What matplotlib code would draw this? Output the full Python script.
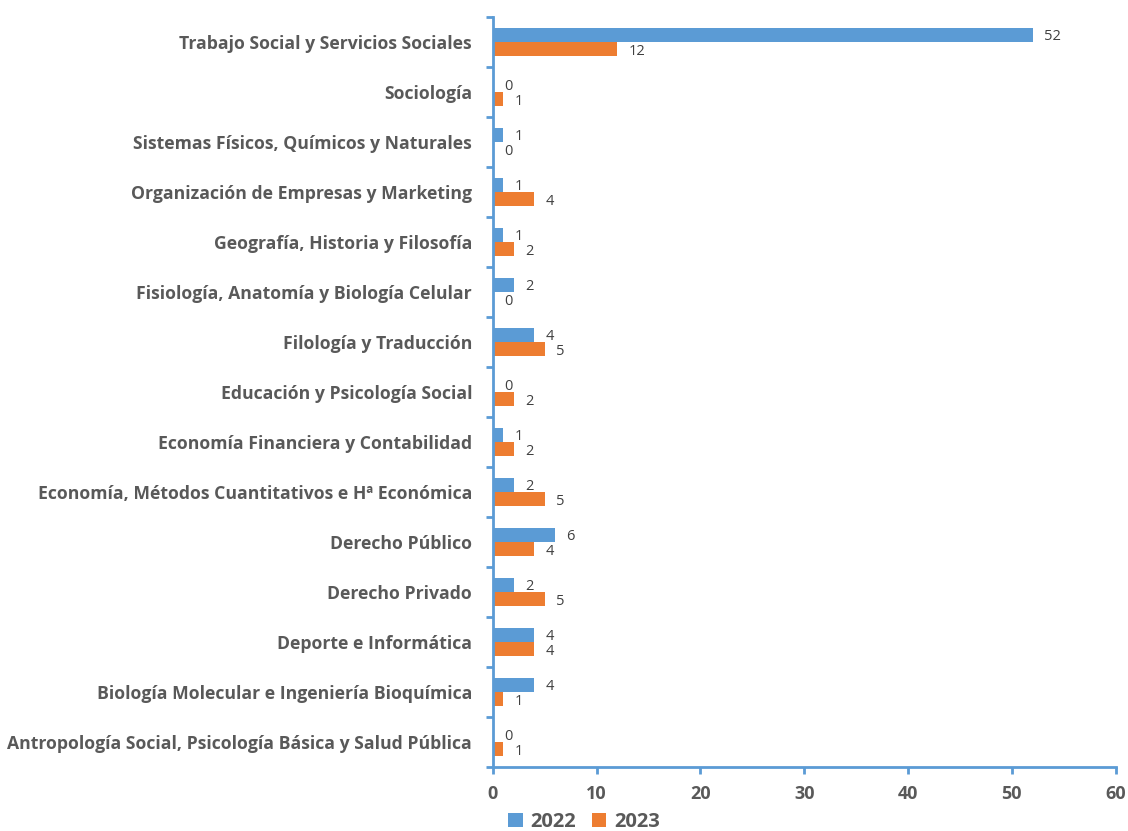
import matplotlib
matplotlib.use("Agg")
import matplotlib.pyplot as plt
import numpy as np

# categories listed bottom to top
categories = [
    "Antropología Social, Psicología Básica y Salud Pública",
    "Biología Molecular e Ingeniería Bioquímica",
    "Deporte e Informática",
    "Derecho Privado",
    "Derecho Público",
    "Economía, Métodos Cuantitativos e Hª Económica",
    "Economía Financiera y Contabilidad",
    "Educación y Psicología Social",
    "Filología y Traducción",
    "Fisiología, Anatomía y Biología Celular",
    "Geografía, Historia y Filosofía",
    "Organización de Empresas y Marketing",
    "Sistemas Físicos, Químicos y Naturales",
    "Sociología",
    "Trabajo Social y Servicios Sociales",
]
vals_2022 = [0, 4, 4, 2, 6, 2, 1, 0, 4, 2, 1, 1, 1, 0, 52]
vals_2023 = [1, 1, 4, 5, 4, 5, 2, 2, 5, 0, 2, 4, 0, 1, 12]
x_ticks = [0, 10, 20, 30, 40, 50, 60]

BLUE = "#5B9BD5"
ORANGE = "#ED7D31"
GREY = "#595959"

plt.rcParams['font.family'] = ['Open Sans', 'DejaVu Sans']

fig = plt.figure(figsize=(11.28, 8.31), dpi=100)
ax = fig.add_axes([0.437, 0.077, 0.552, 0.9025])

y = np.arange(len(categories))
h = 0.28
ax.barh(y + h / 2, vals_2022, height=h, color=BLUE, label="2022")
ax.barh(y - h / 2, vals_2023, height=h, color=ORANGE, label="2023")

# value labels to the right of each bar
for yi, v in zip(y, vals_2022):
    ax.annotate(str(v), (v, yi + h / 2), xytext=(8, -1), textcoords="offset points",
                va="center", ha="left", fontsize=10.5, color="#404040")
for yi, v in zip(y, vals_2023):
    ax.annotate(str(v), (v, yi - h / 2), xytext=(8, -1.5), textcoords="offset points",
                va="center", ha="left", fontsize=10.5, color="#404040")

ax.set_xlim(0, 60)
ax.set_ylim(-0.5, len(categories) - 0.5)
ax.set_xticks(x_ticks)
ax.set_yticks(y)
ax.set_yticklabels(categories, fontsize=12.7, fontweight="bold", color=GREY)
ax.set_yticks(np.arange(-0.5, len(categories)), minor=True)
ax.tick_params(axis="y", which="major", length=0, pad=15)
ax.tick_params(axis="y", which="minor", length=5, width=2, color=BLUE, direction="out")
ax.tick_params(axis="x", length=5, width=2, color=BLUE, direction="out", pad=8,
               labelsize=13, labelcolor=GREY)
for lbl in ax.get_xticklabels():
    lbl.set_fontweight("bold")

for side in ["top", "right"]:
    ax.spines[side].set_visible(False)
for side in ["left", "bottom"]:
    ax.spines[side].set_color(BLUE)
    ax.spines[side].set_linewidth(2)

fig.legend(loc="center", bbox_to_anchor=(0.518, 0.011), ncol=2, frameon=False,
           handlelength=0.7, handleheight=0.7, handletextpad=0.4, columnspacing=0.8,
           prop={"size": 14.5, "weight": "bold"}, labelcolor=GREY)

fig.savefig("out.png", dpi=100)
